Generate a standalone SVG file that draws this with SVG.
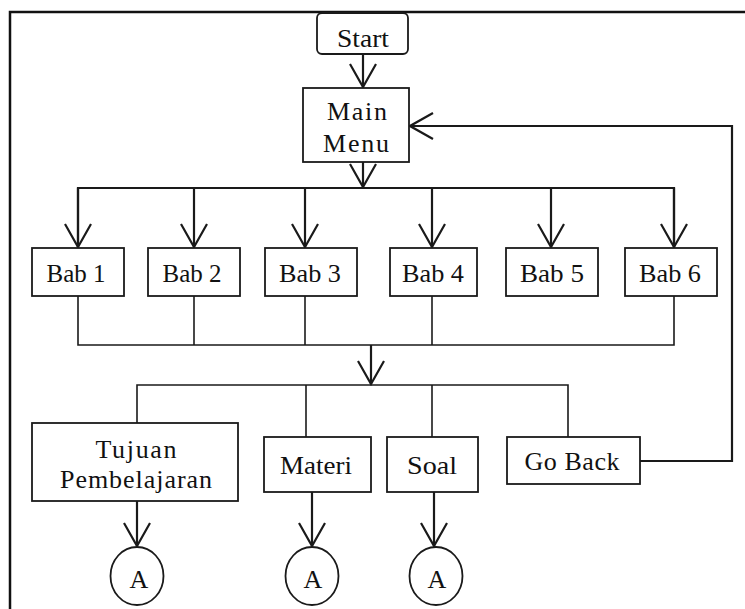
<svg xmlns="http://www.w3.org/2000/svg" width="745" height="609" viewBox="0 0 745 609">
<style>
  .box { fill: #ffffff; stroke: #1a1a1a; stroke-width: 1.8; }
  .t { font-family: "Liberation Serif", "Times New Roman", serif; font-size: 26px; fill: #111; text-anchor: middle; }
  .ta { font-family: "Liberation Serif", "Times New Roman", serif; font-size: 26px; fill: #111; text-anchor: middle; }
  .c { fill: none; stroke: #1a1a1a; stroke-width: 2.2; }
  .thin { fill: none; stroke: #1a1a1a; stroke-width: 1.6; }
  .frame { fill: none; stroke: #111; stroke-width: 2.5; }
</style>
<defs>
  <marker id="v" viewBox="-26 -15 28 30" refX="0" refY="0" markerWidth="28" markerHeight="30" markerUnits="userSpaceOnUse" orient="auto">
    <path d="M-23,-13 L0,0 L-23,13" fill="none" stroke="#1a1a1a" stroke-width="2.2"/>
  </marker>
</defs>
<rect width="745" height="609" fill="#ffffff"/>
<path class="frame" d="M10,609 L10,12 L745,12"/>

<g id="connectors">
  <path class="c" d="M363,54 L363,87" marker-end="url(#v)"/>
  <path class="c" d="M363,162 L363,187" marker-end="url(#v)"/>
  <path class="c" d="M78,248 L78,188 L674,188 L674,248"/>
  <path class="c" d="M78,188 L78,247" marker-end="url(#v)"/>
  <path class="c" d="M194,188 L194,247" marker-end="url(#v)"/>
  <path class="c" d="M305,188 L305,247" marker-end="url(#v)"/>
  <path class="c" d="M432,188 L432,247" marker-end="url(#v)"/>
  <path class="c" d="M551,188 L551,247" marker-end="url(#v)"/>
  <path class="c" d="M674,188 L674,247" marker-end="url(#v)"/>
  <path class="thin" d="M78,296 L78,345 L674,345 L674,296"/>
  <path class="thin" d="M194,296 L194,345"/>
  <path class="thin" d="M305,296 L305,345"/>
  <path class="thin" d="M432,296 L432,345"/>
  <path class="c" d="M371,345 L371,384" marker-end="url(#v)"/>
  <path class="thin" d="M137,423 L137,385 L568,385 L568,437"/>
  <path class="thin" d="M306,385 L306,437"/>
  <path class="thin" d="M432,385 L432,437"/>
  <path class="c" d="M137,501 L137,546" marker-end="url(#v)"/>
  <path class="c" d="M312,492 L312,546" marker-end="url(#v)"/>
  <path class="c" d="M434,492 L434,546" marker-end="url(#v)"/>
  <path class="c" d="M640,461 L732,461 L732,126 L410,126" marker-end="url(#v)"/>
</g>

<g id="start">
  <rect class="box" x="317" y="13" width="91" height="41" rx="5"/>
  <text class="t" x="363" y="47" textLength="52" lengthAdjust="spacingAndGlyphs">Start</text>
</g>
<g id="main-menu">
  <rect class="box" x="303" y="88" width="106" height="74"/>
  <text class="t" x="357" y="120" textLength="60" lengthAdjust="spacing">Main</text>
  <text class="t" x="356" y="152" textLength="66" lengthAdjust="spacing">Menu</text>
</g>
<g id="bab1">
  <rect class="box" x="32" y="248" width="92" height="48"/>
  <text class="t" x="76" y="282" textLength="59" lengthAdjust="spacingAndGlyphs">Bab 1</text>
</g>
<g id="bab2">
  <rect class="box" x="148" y="248" width="92" height="48"/>
  <text class="t" x="192" y="282" textLength="59" lengthAdjust="spacingAndGlyphs">Bab 2</text>
</g>
<g id="bab3">
  <rect class="box" x="265" y="248" width="92" height="48"/>
  <text class="t" x="310" y="282" textLength="62" lengthAdjust="spacingAndGlyphs">Bab 3</text>
</g>
<g id="bab4">
  <rect class="box" x="390" y="248" width="87" height="48"/>
  <text class="t" x="433" y="282" textLength="62" lengthAdjust="spacingAndGlyphs">Bab 4</text>
</g>
<g id="bab5">
  <rect class="box" x="506" y="248" width="92" height="48"/>
  <text class="t" x="552" y="282" textLength="64" lengthAdjust="spacingAndGlyphs">Bab 5</text>
</g>
<g id="bab6">
  <rect class="box" x="625" y="248" width="92" height="48"/>
  <text class="t" x="670" y="282" textLength="62" lengthAdjust="spacingAndGlyphs">Bab 6</text>
</g>
<g id="tujuan">
  <rect class="box" x="32" y="423" width="206" height="78"/>
  <text class="t" x="136" y="458" textLength="81" lengthAdjust="spacing">Tujuan</text>
  <text class="t" x="136" y="488" textLength="152" lengthAdjust="spacing">Pembelajaran</text>
</g>
<g id="materi">
  <rect class="box" x="264" y="437" width="107" height="55"/>
  <text class="t" x="316" y="474" textLength="72" lengthAdjust="spacingAndGlyphs">Materi</text>
</g>
<g id="soal">
  <rect class="box" x="387" y="437" width="91" height="55"/>
  <text class="t" x="432" y="474" textLength="50" lengthAdjust="spacingAndGlyphs">Soal</text>
</g>
<g id="go-back">
  <rect class="box" x="507" y="437" width="133" height="47"/>
  <text class="t" x="572" y="470" textLength="95" lengthAdjust="spacing">Go Back</text>
</g>
<g id="conn-a1">
  <ellipse class="box" cx="137" cy="576" rx="26.5" ry="29"/>
  <text class="ta" x="139" y="588">A</text>
</g>
<g id="conn-a2">
  <ellipse class="box" cx="312" cy="576" rx="26.5" ry="29"/>
  <text class="ta" x="313" y="588">A</text>
</g>
<g id="conn-a3">
  <ellipse class="box" cx="436" cy="576" rx="26.5" ry="29"/>
  <text class="ta" x="437" y="588">A</text>
</g>
</svg>
